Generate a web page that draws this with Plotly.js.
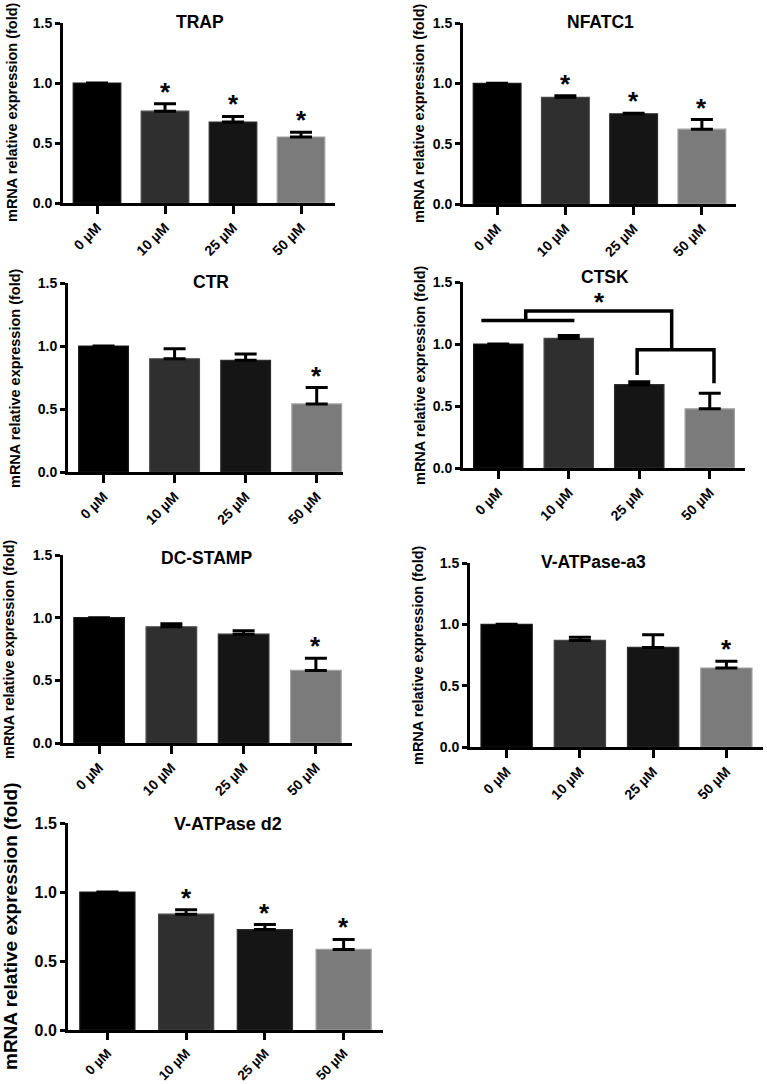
<!DOCTYPE html>
<html>
<head>
<meta charset="utf-8">
<script src="https://cdn.plot.ly/plotly-3.0.1.min.js"></script>
<style>
  html, body { margin: 0; padding: 0; background: #fff; }
  #chart { width: 767px; height: 1084px; }
</style>
</head>
<body>
<div id="chart"></div>
<script>
// ---------------- DATA ----------------
const doses = ['0 µM', '10 µM', '25 µM', '50 µM'];
const genes = ['TRAP', 'NFATC1', 'CTR', 'CTSK', 'DC-STAMP', 'V-ATPase-a3', 'V-ATPase d2'];
const yTitle = 'mRNA relative expression (fold)';
const yTickVals = [0, 0.5, 1.0, 1.5];

const trapMean = [1.00, 0.765, 0.675, 0.550];
const trapErr  = [null, 0.062, 0.046, 0.040];
const trapSig  = [false, true, true, true];

const nfatc1Mean = [1.00, 0.884, 0.748, 0.620];
const nfatc1Err  = [null, 0.014, 0.005, 0.080];
const nfatc1Sig  = [false, true, true, true];

const ctrMean = [1.00, 0.899, 0.886, 0.540];
const ctrErr  = [null, 0.080, 0.050, 0.130];
const ctrSig  = [false, false, false, true];

const ctskMean = [1.00, 1.045, 0.672, 0.477];
const ctskErr  = [null, 0.024, 0.024, 0.126];
const ctskSig  = [false, false, false, false];

const dcstampMean = [1.00, 0.927, 0.868, 0.579];
const dcstampErr  = [null, 0.024, 0.027, 0.098];
const dcstampSig  = [false, false, false, true];

const a3Mean = [1.00, 0.869, 0.812, 0.644];
const a3Err  = [null, 0.025, 0.103, 0.055];
const a3Sig  = [false, false, false, true];

const d2Mean = [1.00, 0.839, 0.728, 0.584];
const d2Err  = [null, 0.032, 0.036, 0.072];
const d2Sig  = [false, true, true, true];

// CTSK group-comparison brackets (category index, value)
const ctskPairLeftX  = [-0.24, 1.08];  const ctskPairLeftY = 1.19;
const ctskPairRightX = [1.97, 3.06];   const ctskPairRightY = 0.953;
const ctskPairRightDrops = [0.75, 0.683];
const ctskLinkX = [0.39, 2.46];        const ctskLinkY = 1.267;
const ctskStarPos = [1.44, 1.25];

// ---------------- STYLE / LAYOUT ----------------
const W = 767, H = 1084;
const barColors = ['#000000', '#2f2f2f', '#151515', '#7b7b7b'];
const barEdge   = ['#1a1a1a', '#474747', '#2e2e2e', '#a2a2a2'];
const FONT = 'Liberation Sans, Arial, Helvetica, sans-serif';

const means = [trapMean, nfatc1Mean, ctrMean, ctskMean, dcstampMean, a3Mean, d2Mean];
const errs  = [trapErr, nfatc1Err, ctrErr, ctskErr, dcstampErr, a3Err, d2Err];
const sigs  = [trapSig, nfatc1Sig, ctrSig, ctskSig, dcstampSig, a3Sig, d2Sig];

// pixel boxes of the plot areas: [left, right, top, bottom], x range right end
const boxes = [
  [63, 335, 23, 203, 3.5],
  [463, 736, 23, 204, 3.5],
  [68, 343, 283, 472, 3.37],
  [463, 745, 282, 468, 3.5],
  [63, 352, 555, 743, 3.5],
  [470, 763, 563, 747, 3.5],
  [68, 383, 823, 1030, 3.5]
];
const titlePos  = [[200, 22], [600, 22], [211, 282], [605, 277], [207, 558], [593, 562], [228, 824]];
const yTitlePos = [[12, 112], [419, 113], [15, 378], [420, 375], [9, 649], [418, 655], [10, 926]];
const yTickSize  = [14, 14, 14, 14, 14, 14, 16];
const xTickSize  = [14, 14, 14, 14, 14, 14, 13.5];
const xTickLen   = [8, 8, 8, 8, 8, 8, 7];
const yTitleSize = [14.5, 14.5, 14.5, 14.5, 14.5, 14.5, 19];
const titleSize  = [17.5, 17.5, 17.5, 17.5, 17.5, 17.5, 18];

const px = v => v / W;
const py = v => 1 - v / H;

const traces = [];
const layout = {
  width: W, height: H,
  margin: {l: 0, r: 0, t: 0, b: 0},
  paper_bgcolor: '#ffffff', plot_bgcolor: 'rgba(0,0,0,0)',
  showlegend: false,
  annotations: [],
  shapes: [],
  font: {family: FONT, color: '#000'}
};

genes.forEach((g, i) => {
  const n = i + 1;
  const xa = 'x' + (n === 1 ? '' : n), ya = 'y' + (n === 1 ? '' : n);
  const xk = 'xaxis' + (n === 1 ? '' : n), yk = 'yaxis' + (n === 1 ? '' : n);
  const b = boxes[i];
  traces.push({
    type: 'bar', x: doses, y: means[i], xaxis: xa, yaxis: ya,
    width: 0.7,
    marker: {color: barColors, line: {color: barEdge, width: 1.2}},
    error_y: {type: 'data', symmetric: false, array: errs[i],
              arrayminus: errs[i].map(e => e === null ? null : 0),
              color: '#000', thickness: 3, width: 11},
    hoverinfo: 'x+y'
  });
  layout[xk] = {
    domain: [px(b[0]), px(b[1])], anchor: ya, type: 'category',
    range: [-0.5, b[4]],
    showline: true, linewidth: 3, linecolor: '#000',
    ticks: 'outside', ticklen: xTickLen[i], tickwidth: 3, tickcolor: '#000',
    tickangle: -45, tickfont: {family: FONT, size: xTickSize[i], color: '#000', weight: 700},
    showgrid: false, zeroline: false, fixedrange: true
  };
  layout[yk] = {
    domain: [py(b[3]), py(b[2])], anchor: xa,
    range: [0, 1.5], tickvals: yTickVals, tickformat: '.1f',
    showline: true, linewidth: 3, linecolor: '#000',
    ticks: 'outside', ticklen: 5, tickwidth: 3, tickcolor: '#000',
    tickfont: {family: FONT, size: yTickSize[i], color: '#000', weight: 700},
    showgrid: false, zeroline: false, fixedrange: true
  };
  // panel title
  layout.annotations.push({
    text: g, xref: 'paper', yref: 'paper',
    x: px(titlePos[i][0]), y: py(titlePos[i][1]),
    xanchor: 'center', yanchor: 'middle', showarrow: false,
    font: {family: FONT, size: titleSize[i], color: '#000', weight: 700}
  });
  // y axis title
  layout.annotations.push({
    text: yTitle, xref: 'paper', yref: 'paper',
    x: px(yTitlePos[i][0]), y: py(yTitlePos[i][1]),
    xanchor: 'center', yanchor: 'middle', textangle: -90, showarrow: false,
    font: {family: FONT, size: yTitleSize[i], color: '#000', weight: 700}
  });
  // significance stars
  sigs[i].forEach((s, k) => {
    if (!s) return;
    layout.annotations.push({
      text: '*', xref: xa, yref: ya,
      x: doses[k], y: means[i][k] + (errs[i][k] || 0),
      xanchor: 'center', yanchor: 'bottom', yshift: -5, showarrow: false,
      font: {family: FONT, size: 26, color: '#000', weight: 700}
    });
  });
});

// CTSK brackets
const lineStyle = {color: '#000', width: 3.5};
layout.shapes.push({
  type: 'line', xref: 'x4', yref: 'y4',
  x0: ctskPairLeftX[0], x1: ctskPairLeftX[1], y0: ctskPairLeftY, y1: ctskPairLeftY,
  line: lineStyle
});
layout.shapes.push({
  type: 'path', xref: 'x4', yref: 'y4',
  path: 'M ' + ctskPairRightX[0] + ',' + ctskPairRightDrops[0] +
        ' L ' + ctskPairRightX[0] + ',' + ctskPairRightY +
        ' L ' + ctskPairRightX[1] + ',' + ctskPairRightY +
        ' L ' + ctskPairRightX[1] + ',' + ctskPairRightDrops[1],
  line: lineStyle
});
layout.shapes.push({
  type: 'path', xref: 'x4', yref: 'y4',
  path: 'M ' + ctskLinkX[0] + ',' + ctskPairLeftY +
        ' L ' + ctskLinkX[0] + ',' + ctskLinkY +
        ' L ' + ctskLinkX[1] + ',' + ctskLinkY +
        ' L ' + ctskLinkX[1] + ',' + ctskPairRightY,
  line: lineStyle
});
layout.annotations.push({
  text: '*', xref: 'x4', yref: 'y4', x: ctskStarPos[0], y: ctskStarPos[1],
  xanchor: 'center', yanchor: 'bottom', yshift: -6, showarrow: false,
  font: {family: FONT, size: 26, color: '#000', weight: 700}
});

Plotly.newPlot('chart', traces, layout, {displayModeBar: false, staticPlot: true});
</script>
</body>
</html>
